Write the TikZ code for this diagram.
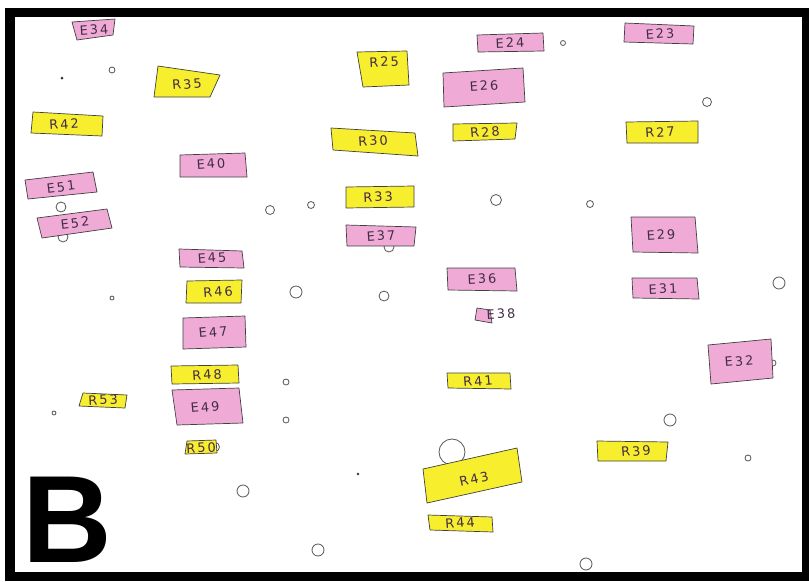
\documentclass[tikz,border=0pt]{standalone}
\usepackage{fontspec}
\usepackage{xcolor}
\newfontfamily\notefont[LetterSpace=16]{DejaVu Sans}
\newfontfamily\bigfont{Liberation Sans}
\definecolor{notepink}{RGB}{240,170,214}
\definecolor{noteyellow}{RGB}{247,238,45}
\definecolor{notetext}{RGB}{66,44,72}

\begin{document}
\begin{tikzpicture}[
  x=0.03cm, y=-0.03cm,
  pinknote/.style={fill=notepink, draw=black!75, line width=0.6pt, line join=round},
  yellownote/.style={fill=noteyellow, draw=black!75, line width=0.6pt, line join=round},
  tag/.style={inner sep=0pt, text=notetext, font=\notefont\fontsize{11}{12}\selectfont},
  hole/.style={draw=black!65, line width=0.7pt, fill=white},
  speck/.style={fill=black!80}
]
\useasboundingbox (0,0) rectangle (809,581);

% Holes and specks (under the notes)
\draw[hole] (112,70) circle (3);
\draw[hole] (563,43) circle (2.5);
\draw[hole] (707,102) circle (4.5);
\draw[hole] (61,207) circle (5);
\draw[hole] (63,237) circle (5);
\draw[hole] (270,210) circle (4.5);
\draw[hole] (311,205) circle (3.5);
\draw[hole] (496,200) circle (5.5);
\draw[hole] (389,247) circle (5);
\draw[hole] (590,204) circle (3.5);
\draw[hole] (779,283) circle (6);
\draw[hole] (296,292) circle (6);
\draw[hole] (384,296) circle (5);
\draw[hole] (112,298) circle (2);
\draw[hole] (773,363) circle (3);
\draw[hole] (286,382) circle (3);
\draw[hole] (286,420) circle (3);
\draw[hole] (54,413) circle (2);
\draw[hole] (215,447) circle (4.5);
\draw[hole] (243,491) circle (6);
\draw[hole] (452,452) circle (13);
\draw[hole] (318,550) circle (6);
\draw[hole] (670,420) circle (6);
\draw[hole] (748,458) circle (3);
\draw[hole] (586,564) circle (6);
\fill[speck] (62,78) circle (1.5);
\fill[speck] (358,474) circle (1.3);

% Top band
\filldraw[pinknote] (72,22) -- (115,19) -- (113,35) -- (77,40) -- cycle;
\node[tag, rotate=4] (e34) at (94,30) {E34};
\filldraw[yellownote] (158,66) -- (220,75) -- (210,97) -- (154,97) -- cycle;
\node[tag, rotate=5] (r35) at (187,84) {R35};
\filldraw[yellownote] (357,52) -- (407,51) -- (409,85) -- (363,87) -- cycle;
\node[tag, rotate=3] (r25) at (384,62) {R25};
\filldraw[pinknote] (477,35) -- (543,33) -- (544,51) -- (478,52) -- cycle;
\node[tag, rotate=3] (e24) at (510,43) {E24};
\filldraw[pinknote] (625,23) -- (694,26) -- (693,44) -- (624,42) -- cycle;
\node[tag, rotate=4] (e23) at (660,34) {E23};
\filldraw[pinknote] (443,73) -- (523,68) -- (525,102) -- (444,107) -- cycle;
\node[tag, rotate=4] (e26) at (484,86) {E26};

% Second band
\filldraw[yellownote] (33,112) -- (103,116) -- (102,136) -- (31,133) -- cycle;
\node[tag, rotate=4] (r42) at (64,124) {R42};
\filldraw[yellownote] (331,128) -- (415,133) -- (418,156) -- (333,150) -- cycle;
\node[tag, rotate=4] (r30) at (373,141) {R30};
\filldraw[yellownote] (453,124) -- (517,123) -- (515,139) -- (453,141) -- cycle;
\node[tag, rotate=5] (r28) at (485,132) {R28};
\filldraw[yellownote] (626,122) -- (698,121) -- (698,143) -- (627,143) -- cycle;
\node[tag, rotate=4] (r27) at (660,132) {R27};
\filldraw[pinknote] (180,155) -- (245,153) -- (247,177) -- (180,177) -- cycle;
\node[tag, rotate=4] (e40) at (211,164) {E40};
\filldraw[pinknote] (25,180) -- (93,172) -- (97,192) -- (28,199) -- cycle;
\node[tag, rotate=7] (e51) at (61,187) {E51};
\filldraw[pinknote] (37,218) -- (107,209) -- (112,228) -- (42,238) -- cycle;
\node[tag, rotate=7] (e52) at (75,223) {E52};

% Middle band
\filldraw[yellownote] (346,187) -- (414,186) -- (414,207) -- (346,208) -- cycle;
\node[tag, rotate=3] (r33) at (378,197) {R33};
\filldraw[pinknote] (346,225) -- (416,227) -- (414,246) -- (347,246) -- cycle;
\node[tag, rotate=4] (e37) at (381,236) {E37};
\filldraw[pinknote] (631,217) -- (695,217) -- (698,253) -- (633,252) -- cycle;
\node[tag, rotate=4] (e29) at (661,235) {E29};
\filldraw[pinknote] (447,268) -- (515,268) -- (517,291) -- (448,290) -- cycle;
\node[tag, rotate=3] (e36) at (482,279) {E36};
\filldraw[pinknote] (632,278) -- (697,278) -- (699,299) -- (633,298) -- cycle;
\node[tag, rotate=3] (e31) at (663,289) {E31};
\filldraw[pinknote] (477,308) -- (490,310) -- (492,323) -- (475,320) -- cycle;
\node[tag, rotate=3] (e38) at (501,314) {E38};
\filldraw[pinknote] (179,249) -- (242,251) -- (244,268) -- (180,267) -- cycle;
\node[tag, rotate=4] (e45) at (212,258) {E45};
\filldraw[yellownote] (187,281) -- (242,280) -- (241,303) -- (186,303) -- cycle;
\node[tag, rotate=4] (r46) at (218,292) {R46};
\filldraw[pinknote] (183,318) -- (245,316) -- (246,347) -- (183,349) -- cycle;
\node[tag, rotate=5] (e47) at (213,332) {E47};
\filldraw[pinknote] (708,345) -- (771,339) -- (773,378) -- (711,384) -- cycle;
\node[tag, rotate=5] (e32) at (739,361) {E32};

% Lower band
\filldraw[yellownote] (171,366) -- (238,365) -- (239,383) -- (172,384) -- cycle;
\node[tag, rotate=4] (r48) at (207,375) {R48};
\filldraw[yellownote] (447,373) -- (510,373) -- (511,389) -- (448,388) -- cycle;
\node[tag, rotate=5] (r41) at (478,381) {R41};
\filldraw[yellownote] (83,393) -- (127,395) -- (125,408) -- (79,406) -- cycle;
\node[tag, rotate=3] (r53) at (103,400) {R53};
\filldraw[pinknote] (172,390) -- (239,388) -- (243,423) -- (177,425) -- cycle;
\node[tag, rotate=5] (e49) at (205,407) {E49};
\filldraw[yellownote] (187,441) -- (216,440) -- (217,453) -- (185,454) -- cycle;
\node[tag, rotate=3] (r50) at (201,448) {R50};
\filldraw[yellownote] (597,441) -- (668,442) -- (666,461) -- (598,461) -- cycle;
\node[tag, rotate=5] (r39) at (636,451) {R39};
\filldraw[yellownote] (423,469) -- (517,448) -- (522,482) -- (427,503) -- cycle;
\node[tag, rotate=13] (r43) at (474,479) {R43};
\filldraw[yellownote] (428,515) -- (492,517) -- (493,532) -- (430,530) -- cycle;
\node[tag, rotate=4] (r44) at (460,523) {R44};

% Panel letter and frame
\node[inner sep=0pt, anchor=base west, font=\bigfont\bfseries\fontsize{106}{106}\selectfont] (panel) at (22,562) {B};
\draw[line width=0.27cm] (10,12) rectangle (806,576);

\end{tikzpicture}
\end{document}
